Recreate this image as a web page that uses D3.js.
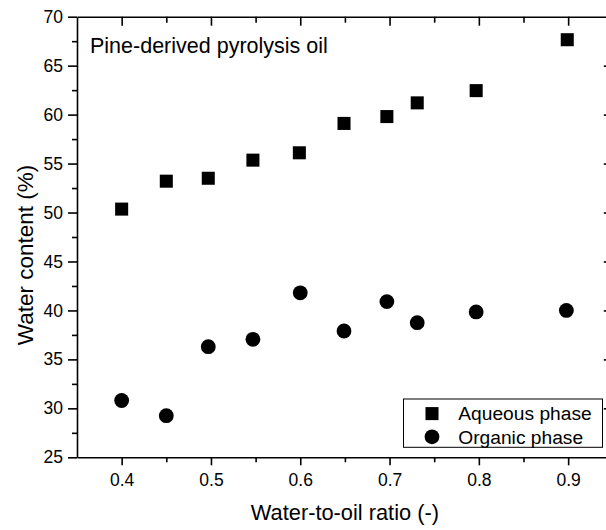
<!DOCTYPE html>
<html>
<head>
<meta charset="utf-8">
<script src="https://cdn.jsdelivr.net/npm/d3@7"></script>
<style>
  html, body { margin: 0; padding: 0; background: #fff; }
  svg { display: block; }
  text { font-family: "Liberation Sans", Arial, sans-serif; fill: #000; }
</style>
</head>
<body>
<svg id="chart" width="606" height="530"></svg>
<script>
// ---- Data ----
const ratioAqueous = [0.4, 0.45, 0.497, 0.547, 0.599, 0.649, 0.697, 0.731, 0.797, 0.899];
const waterAqueous = [50.35, 53.2, 53.5, 55.35, 56.1, 59.1, 59.8, 61.2, 62.45, 67.65];
const ratioOrganic = [0.4, 0.45, 0.497, 0.547, 0.6, 0.649, 0.697, 0.731, 0.797, 0.898];
const waterOrganic = [30.8, 29.25, 36.3, 37.05, 41.8, 37.9, 40.9, 38.75, 39.85, 40.0];
const xMajorTicks = [0.4, 0.5, 0.6, 0.7, 0.8, 0.9];
const xMinorTicks = [0.45, 0.55, 0.65, 0.75, 0.85];
const yMajorTicks = [25, 30, 35, 40, 45, 50, 55, 60, 65, 70];
const yMinorTicks = [27.5, 32.5, 37.5, 42.5, 47.5, 52.5, 57.5, 62.5, 67.5];
const seriesNames = ["Aqueous phase", "Organic phase"];
const titleText = "Pine-derived pyrolysis oil";
const xLabel = "Water-to-oil ratio (-)";
const yLabel = "Water content (%)";

// ---- Layout ----
const svg = d3.select("#chart");
const L = 77, R = 612.8, T = 16.7, B = 457.3;
const x = d3.scaleLinear().domain([0.35, 0.95]).range([L, R]);
const y = d3.scaleLinear().domain([25, 70]).range([B, T]);
const axisW = 1.6;

function styleAxis(g) {
  g.selectAll("path.domain").attr("stroke", "#000").attr("stroke-width", axisW);
  g.selectAll(".tick line").attr("stroke", "#000").attr("stroke-width", axisW);
  g.selectAll(".tick text").attr("font-size", 17.5).attr("fill", "#000")
    .attr("font-family", "'Liberation Sans', Arial, sans-serif");
}

// minor ticks (drawn first, no domain)
const minorBottom = svg.append("g").attr("transform", `translate(0,${B})`)
  .call(d3.axisBottom(x).tickValues(xMinorTicks).tickSize(5).tickFormat(""));
minorBottom.select(".domain").remove(); styleAxis(minorBottom);
const minorTop = svg.append("g").attr("transform", `translate(0,${T})`)
  .call(d3.axisTop(x).tickValues(xMinorTicks).tickSize(-6).tickFormat(""));
minorTop.select(".domain").remove(); styleAxis(minorTop);
const minorLeft = svg.append("g").attr("transform", `translate(${L},0)`)
  .call(d3.axisLeft(y).tickValues(yMinorTicks).tickSize(5).tickFormat(""));
minorLeft.select(".domain").remove(); styleAxis(minorLeft);
const minorRight = svg.append("g").attr("transform", `translate(${R},0)`)
  .call(d3.axisRight(y).tickValues(yMinorTicks).tickSize(-6).tickFormat(""));
minorRight.select(".domain").remove(); styleAxis(minorRight);

// major axes
const gTop = svg.append("g").attr("transform", `translate(0,${T})`)
  .call(d3.axisTop(x).tickValues(xMajorTicks).tickSize(-9).tickSizeOuter(0).tickFormat(""));
styleAxis(gTop);
const gRight = svg.append("g").attr("transform", `translate(${R},0)`)
  .call(d3.axisRight(y).tickValues(yMajorTicks.slice(1, -1)).tickSize(-9).tickSizeOuter(0).tickFormat(""));
styleAxis(gRight);
const gBottom = svg.append("g").attr("transform", `translate(0,${B})`)
  .call(d3.axisBottom(x).tickValues(xMajorTicks).tickSize(8).tickSizeOuter(0).tickPadding(8).tickFormat(d3.format(".1f")));
styleAxis(gBottom);
const gLeft = svg.append("g").attr("transform", `translate(${L},0)`)
  .call(d3.axisLeft(y).tickValues(yMajorTicks).tickSize(9).tickSizeOuter(0).tickPadding(5).tickFormat(d3.format("d")));
styleAxis(gLeft);

// axis labels
svg.append("text").attr("x", (L + R) / 2).attr("y", 520)
  .attr("text-anchor", "middle").attr("font-size", 21.8).text(xLabel);
svg.append("text").attr("transform", `translate(32.5,255) rotate(-90)`)
  .attr("text-anchor", "middle").attr("font-size", 22.5).text(yLabel);

// title inside plot
svg.append("text").attr("x", 90).attr("y", 52.7).attr("font-size", 21.5).text(titleText);

// ---- markers ----
const sq = d3.symbol().type(d3.symbolSquare).size(170);
const ci = d3.symbol().type(d3.symbolCircle).size(172);
svg.append("g").selectAll("path").data(d3.zip(ratioAqueous, waterAqueous)).join("path")
  .attr("d", sq).attr("fill", "#000")
  .attr("transform", d => `translate(${x(d[0])},${y(d[1])})`);
svg.append("g").selectAll("path").data(d3.zip(ratioOrganic, waterOrganic)).join("path")
  .attr("d", ci).attr("fill", "#000")
  .attr("transform", d => `translate(${x(d[0])},${y(d[1])})`);

// ---- legend ----
const lg = svg.append("g");
lg.append("rect").attr("x", 403.5).attr("y", 399).attr("width", 199).attr("height", 48.3)
  .attr("fill", "#fff").attr("stroke", "#000").attr("stroke-width", 1);
const legSyms = [sq, ci];
const legY = [413.6, 436.8];
seriesNames.forEach((name, i) => {
  lg.append("path").attr("d", legSyms[i]).attr("fill", "#000")
    .attr("transform", `translate(432,${legY[i]})`);
  lg.append("text").attr("x", 458.3).attr("y", legY[i]).attr("dy", "0.35em")
    .attr("font-size", 19.2).text(name);
});
</script>
</body>
</html>
